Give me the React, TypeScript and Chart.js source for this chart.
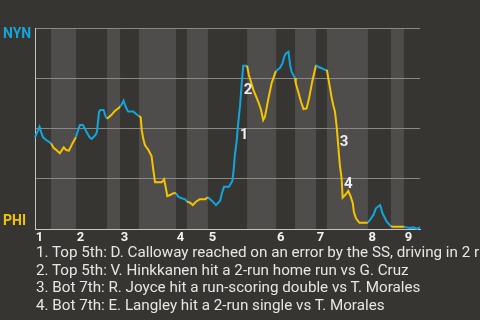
import React, { useEffect, useRef } from "react";
import { Chart, registerables } from "chart.js";

Chart.register(...registerables);

// Play index (x) and NYN win probability in % (y)
const playIndex = [
  0, 1.3, 1.8, 2.3, 3.2, 4.6, 5.3, 6.1, 7.1, 8.2, 8.9, 9.7, 10.7, 11.7, 12.0,
  12.8, 13.7, 14.7, 15.6, 16.2, 17.3, 17.7, 18.3, 18.7, 19.6, 20.2, 20.6, 21.8, 22.8, 24.0,
  24.3, 24.7, 25.3, 25.9, 26.6, 28.1, 28.9, 29.7, 30.2, 30.5, 30.9, 31.4, 32.4, 33.3, 33.8,
  34.3, 36.2, 36.9, 37.4, 37.8, 38.6, 39.5, 40.3, 40.9, 41.9, 42.9, 43.4, 44.3, 45.1, 46.0,
  47.1, 48.6, 49.4, 50.5, 51.7, 52.9, 53.4, 54.0, 55.4, 56.4, 56.8, 57.1, 57.6, 58.1, 58.6,
  59.1, 59.5, 60.6, 61.1, 62.4, 63.8, 64.6, 65.2, 65.7, 66.7, 67.6, 68.6, 68.9, 70.0, 70.7,
  71.2, 71.7, 72.4, 72.9, 73.3, 74.3, 74.5, 75.2, 76.0, 76.7, 77.6, 78.3, 79.2, 80.3, 80.9,
  81.9, 82.9, 83.4, 83.8, 84.3, 84.8, 85.2, 85.7, 86.2, 86.7, 87.1, 87.6, 87.9, 88.6, 89.5,
  90.2, 90.8, 91.1, 91.7, 92.7, 94.8, 95.1, 95.7, 96.7, 97.4, 98.6, 99.3, 100.5, 101.7, 102.4,
  105.4, 106.2, 107.1, 108.1, 109.1, 110,
];
const nynWinPct = [
  45.6, 50.9, 47.9, 45.6, 44.3, 42.6, 40.4, 39.3, 37.7, 40.6, 39.3, 39.0, 42.6, 45.6, 47.6,
  51.7, 51.7, 48.4, 45.6, 44.8, 46.8, 48.4, 58.4, 59.2, 59.2, 55.9, 54.9, 56.7, 58.7, 60.3,
  61.0, 61.7, 63.8, 60.8, 58.4, 58.4, 57.2, 56.2, 55.6, 49.3, 45.1, 41.8, 39.3, 36.3, 29.4,
  23.2, 23.2, 24.7, 20.2, 16.4, 16.9, 17.8, 17.8, 16.1, 15.3, 14.8, 13.6, 13.1, 11.9, 13.6,
  14.8, 14.8, 15.8, 14.1, 11.9, 14.1, 17.8, 21.0, 21.0, 23.9, 30.2, 36.8, 43.4, 53.4, 61.7,
  73.3, 81.2, 81.2, 76.6, 69.2, 63.3, 59.2, 54.2, 55.9, 65.0, 72.5, 77.5, 78.6, 80.2, 82.4,
  85.7, 87.4, 88.2, 81.6, 78.3, 75.1, 72.5, 68.3, 63.3, 59.7, 60.0, 65.0, 73.3, 81.6, 80.7,
  80.0, 79.1, 79.1, 75.0, 70.0, 65.0, 61.7, 58.4, 50.9, 40.1, 31.8, 25.2, 15.6, 16.9, 18.9,
  16.1, 12.8, 8.6, 5.3, 3.1, 3.1, 3.2, 4.5, 7.0, 10.3, 11.9, 7.8, 3.6, 1.3, 1.1,
  1.1, 0.8, 0.5, 0.8, 0.0, 0.8,
];

// Start of each half-inning (top 1, bot 1, top 2, ...)
const halfInningStarts = [0, 4.6, 11.7, 20.6, 24.3, 29.7, 40.3, 43.4, 49.4, 60.6, 68.9, 74.3, 80.3, 83.4, 95.1, 101.7, 105.4];
const lastPlay = 110;
const inningLabels = ["1", "2", "3", "4", "5", "6", "7", "8", "9"];

const awayTeam = "NYN";
const homeTeam = "PHI";

const markerLabels = ["1", "2", "3", "4"];
const markerX = [59.7, 60.9, 88.3, 89.5];
const markerY = [46.5, 69.0, 43.0, 22.1];

const notes = [
  "1. Top 5th: D. Calloway reached on an error by the SS, driving in 2 runs",
  "2. Top 5th: V. Hinkkanen hit a 2-run home run vs G. Cruz",
  "3. Bot 7th: R. Joyce hit a run-scoring double vs T. Morales",
  "4. Bot 7th: E. Langley hit a 2-run single vs T. Morales",
];

const BG = "#373532";
const BAND = "#4f4d4b";
const BLUE = "#12a6de";
const YELLOW = "#f5c400";
const FONT = "Roboto, 'Noto Sans', sans-serif";

function halfIndex(x: number) {
  let idx = 0;
  for (let i = 0; i < halfInningStarts.length; i++) {
    if (x >= halfInningStarts[i]) idx = i;
  }
  return idx;
}

const inningStarts = halfInningStarts.filter((_, i) => i % 2 === 0);

const decorPlugin = {
  id: "decor",
  beforeDraw(chart: any) {
    const { ctx, chartArea, scales } = chart;
    ctx.save();
    ctx.fillStyle = BG;
    ctx.fillRect(0, 0, chart.width, chart.height);
    const xs = scales.x;
    for (let i = 0; i < halfInningStarts.length; i++) {
      if (i % 2 === 1) {
        const x0 = xs.getPixelForValue(halfInningStarts[i]);
        const x1 = xs.getPixelForValue(i + 1 < halfInningStarts.length ? halfInningStarts[i + 1] : lastPlay);
        ctx.fillStyle = BAND;
        ctx.fillRect(x0, chartArea.top, x1 - x0, chartArea.bottom - chartArea.top);
      }
    }
    ctx.restore();
  },
  afterDraw(chart: any) {
    const { ctx, scales } = chart;
    const ys = scales.y;
    const xs = scales.x;
    ctx.save();
    ctx.font = `bold 14px ${FONT}`;
    ctx.textAlign = "left";
    ctx.textBaseline = "alphabetic";
    ctx.fillStyle = BLUE;
    ctx.fillText(awayTeam, 3, ys.getPixelForValue(100) + 10.3);
    ctx.fillStyle = YELLOW;
    ctx.fillText(homeTeam, 3, ys.getPixelForValue(0) - 4);

    ctx.font = `bold 15px ${FONT}`;
    ctx.textAlign = "center";
    ctx.textBaseline = "middle";
    ctx.fillStyle = "#eeeeee";
    markerLabels.forEach((t, i) => {
      ctx.fillText(t, xs.getPixelForValue(markerX[i]), ys.getPixelForValue(markerY[i]));
    });
    ctx.restore();
  },
};

export default function App() {
  const ref = useRef<HTMLCanvasElement | null>(null);

  useEffect(() => {
    if (!ref.current) return;
    const chart = new Chart(ref.current, {
      type: "line",
      data: {
        datasets: [
          {
            data: playIndex.map((x, i) => ({ x, y: nynWinPct[i] })),
            borderWidth: 2,
            pointRadius: 0,
            tension: 0,
            clip: 4,
            borderColor: BLUE,
            segment: {
              borderColor: (c: any) => {
                const mid = (c.p0.parsed.x + c.p1.parsed.x) / 2;
                return halfIndex(mid) % 2 === 0 ? BLUE : YELLOW;
              },
            },
          },
        ],
      },
      options: {
        animation: false,
        responsive: false,
        maintainAspectRatio: false,
        layout: { padding: { left: 35, right: 60, top: 28, bottom: 75 } },
        plugins: { legend: { display: false }, tooltip: { enabled: false }, title: { display: false } },
        scales: {
          x: {
            type: "linear",
            min: 0,
            max: lastPlay,
            grid: { display: false, drawTicks: false },
            border: { display: true, color: "#c4c4c4", width: 1 },
            afterBuildTicks: (s: any) => {
              s.ticks = inningStarts.map((v) => ({ value: v }));
            },
            afterFit: (s: any) => {
              s.height = 16;
            },
            ticks: {
              autoSkip: false,
              maxRotation: 0,
              padding: 1,
              labelOffset: 4.5,
              color: "#f2f2f2",
              font: { family: FONT, size: 13, weight: "bold" },
              callback: (v: any) => {
                const i = inningStarts.indexOf(Number(v));
                return i >= 0 ? inningLabels[i] : "";
              },
            },
          },
          y: {
            min: 0,
            max: 100,
            grid: { color: "#8a8886", lineWidth: 1, drawTicks: false },
            border: { display: true, color: "#c4c4c4", width: 1 },
            ticks: { display: false, stepSize: 25 },
            afterFit: (s: any) => {
              s.width = 0;
            },
          },
        },
      },
      plugins: [decorPlugin],
    });
    return () => chart.destroy();
  }, []);

  return (
    <div style={{ position: "absolute", left: 0, top: 0, width: 480, height: 320, background: BG, overflow: "hidden" }}>
      <canvas ref={ref} width={480} height={320} style={{ position: "absolute", left: 0, top: 0 }} />
      <div
        style={{
          position: "absolute",
          left: 36,
          top: 244.2,
          font: `15.2px ${FONT}`,
          lineHeight: "17.6px",
          color: "#e6e6e6",
          whiteSpace: "nowrap",
        }}
      >
        {notes.map((n, i) => (
          <div key={i}>{n}</div>
        ))}
      </div>
    </div>
  );
}
